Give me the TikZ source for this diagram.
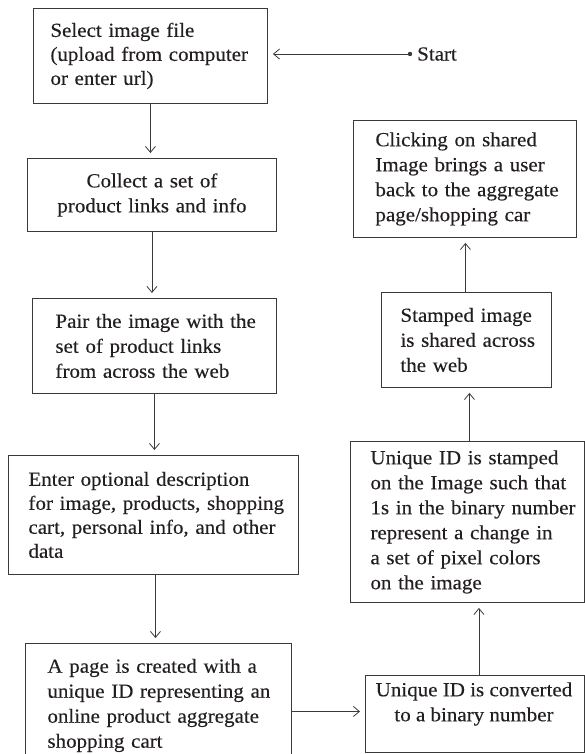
\documentclass[tikz,border=0pt]{standalone}
\usepackage{fontspec}
\setmainfont{Liberation Serif}[FakeStretch=1.05,FakeBold=0.3]
\usetikzlibrary{arrows.meta}
\definecolor{ink}{HTML}{231F20}
\definecolor{edge}{HTML}{3A3A3A}
\begin{document}
\begin{tikzpicture}[x=1pt,y=-1pt,
  box/.style={draw=edge, line width=0.9pt, rectangle, anchor=north west,
    inner ysep=0pt, text=ink, font=\fontsize{20}{25}\selectfont},
  txt/.style={text=ink, inner sep=0pt, font=\fontsize{20}{25}\selectfont},
  arr/.style={draw=edge, line width=0.8pt,
    -{Straight Barb[length=6pt,width=10pt]}, shorten >=5pt}]
\useasboundingbox (0,0) rectangle (585,754);

\node[box, minimum width=234pt, minimum height=95pt, inner xsep=17pt,
  text width=200pt, align=left, font=\fontsize{20}{24}\selectfont] (b1) at (33,8)
  {\mbox{Select image file}\\\mbox{(upload from computer}\\\mbox{or enter url)}};
\node[box, minimum width=249pt, minimum height=73pt, inner xsep=10pt,
  text width=229pt, align=center] (b2) at (27,158)
  {\mbox{Collect a set of}\\\mbox{product links and info}};
\node[box, minimum width=244pt, minimum height=95pt, inner xsep=23pt,
  text width=198pt, align=left] (b3) at (32,298)
  {\mbox{Pair the image with the}\\\mbox{set of product links}\\\mbox{from across the web}};
\node[box, minimum width=290pt, minimum height=119pt, inner xsep=20pt,
  text width=250pt, align=left, font=\fontsize{20}{24}\selectfont] (b4) at (8,455)
  {\mbox{Enter optional description}\\\mbox{for image, products, shopping}\\\mbox{cart, personal info, and other}\\\mbox{data}};
\node[box, minimum width=266pt, minimum height=124pt, inner xsep=22pt,
  text width=222pt, align=left] (b5) at (25,643)
  {\mbox{A page is created with a}\\\mbox{unique ID representing an}\\\mbox{online product aggregate}\\\mbox{shopping cart}};
\node[box, minimum width=219pt, minimum height=77pt] (b6) at (365,675) {};
\node[txt, align=center] (t6) at (474,704)
  {\mbox{Unique ID is converted}\\\mbox{to a binary number}};
\node[box, minimum width=234pt, minimum height=161pt, inner xsep=20pt,
  text width=194pt, align=left] (b7) at (350,441)
  {\mbox{Unique ID is stamped}\\\mbox{on the Image such that}\\\mbox{1s in the binary number}\\\mbox{represent a change in}\\\mbox{a set of pixel colors}\\\mbox{on the image}};
\node[box, minimum width=170pt, minimum height=95pt, inner xsep=19pt,
  text width=132pt, align=left] (b8) at (381,292)
  {\mbox{Stamped image}\\\mbox{is shared across}\\\mbox{the web}};
\node[box, minimum width=223pt, minimum height=117pt, inner xsep=22pt,
  text width=179pt, align=left] (b9) at (353,120)
  {\mbox{Clicking on shared}\\\mbox{Image brings a user}\\\mbox{back to the aggregate}\\\mbox{page/shopping car}};

\coordinate (s0) at (410,54);
\fill[edge] (s0) circle (2.2pt);
\node[txt, anchor=west] (st) at (417,54) {Start};

\draw[arr] (s0) -- (s0 -| b1.east);
\draw[arr] (b1.south) -- (b1.south |- b2.north);
\draw[arr] (b2.south) -- (b2.south |- b3.north);
\draw[arr] (b3.south) -- (b3.south |- b4.north);
\draw[arr] ([xshift=2pt]b4.south) -- ([xshift=2pt]b4.south |- b5.north);
\draw[arr] ([yshift=-6pt]b5.east) -- ([yshift=-6pt]b5.east -| b6.west);
\draw[arr] ([xshift=4pt]b6.north) -- ([xshift=4pt]b6.north |- b7.south);
\draw[arr] ([xshift=2pt]b7.north) -- ([xshift=2pt]b7.north |- b8.south);
\draw[arr] ([xshift=-1pt]b8.north) -- ([xshift=-1pt]b8.north |- b9.south);
\end{tikzpicture}
\end{document}
